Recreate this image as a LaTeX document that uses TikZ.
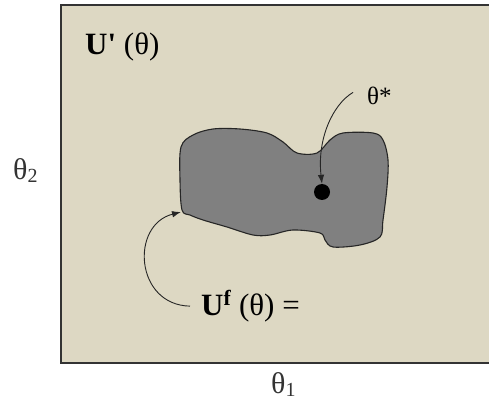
\documentclass[tikz,border=0pt]{standalone}
\usepackage{fontspec}
\newfontfamily\timesfont{Liberation Serif}
\usetikzlibrary{arrows.meta}

\definecolor{panelbeige}{RGB}{221,216,195}
\definecolor{regiongray}{RGB}{128,128,128}

\begin{document}
\begin{tikzpicture}[
    x=1pt, y=-1pt,
    font=\timesfont,
    label/.style={
      inner sep=0pt,
      anchor=base west,
      font=\timesfont\fontsize{31}{33}\selectfont
    },
    axislabel/.style={
      label,
      text=black!80,
      font=\timesfont\fontsize{30}{32}\selectfont
    },
    point/.style={
      circle,
      fill=black,
      inner sep=0pt,
      minimum size=16pt
    },
    arrow/.style={
      -{Latex[length=9pt,width=6.5pt]},
      line width=0.9pt,
      draw=black!85
    }
  ]

    \useasboundingbox (0,0) rectangle (489,403);

    % Parameter space
    \draw[line width=1.8pt, draw=black!80, fill=panelbeige] (61,5) rectangle (492,363);

    % Feasible region
    \draw[line width=1.1pt, draw=black!85, fill=regiongray]
      plot[smooth cycle, tension=0.55] coordinates {
        (181,147) (193,135) (213,129) (240,129) (267,133) (283,142)
        (297,153) (317,153) (330,140) (343,133) (373,133) (383,140)
        (388,160) (387,187) (383,220) (380,237) (360,245) (333,247)
        (325,240) (320,233) (293,230) (270,235) (253,235) (227,227)
        (203,220) (190,215) (182,210) (180,180)};
    \coordinate (rim) at (181,212);

    % Optimum
    \node[point] (optimum) at (322,192) {};

    % Labels
    \node[label] (space) at (85,55) {\textbf{U'} (θ)};
    \node[label] (feasible) at (201,315) {\textbf{U\textsuperscript{f}} (θ) =};
    \node[label, font=\timesfont\fontsize{25}{27}\selectfont] (thetastar) at (367,105) {θ*};
    \node[axislabel] (thetatwo) at (13,180)
      {θ\raisebox{-3pt}{\fontsize{20}{22}\selectfont 2}};
    \node[axislabel] (thetaone) at (271,393)
      {θ\raisebox{-3pt}{\fontsize{20}{22}\selectfont 1}};

    % Arrows
    \draw[arrow] ([xshift=-14pt, yshift=4pt]thetastar.west)
      .. controls (332,105) and (317,140) .. (optimum.north);
    \draw[arrow] ([xshift=-11pt]feasible.west)
      .. controls (135,305) and (130,225) .. (rim);

  \end{tikzpicture}
\end{document}
